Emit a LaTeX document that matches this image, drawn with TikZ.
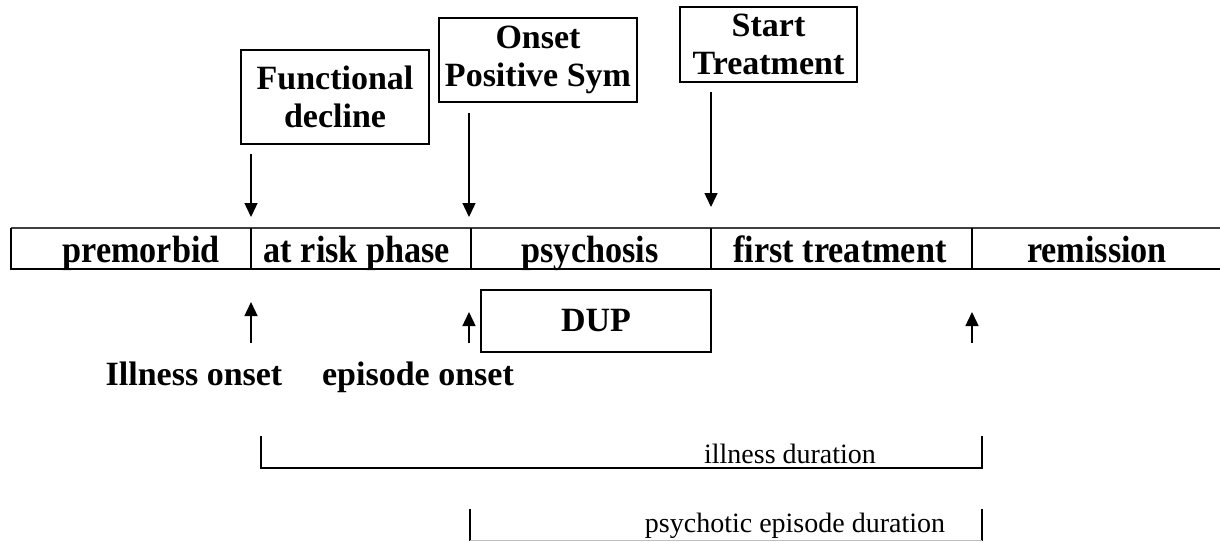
\documentclass[tikz,border=0pt]{standalone}
\usepackage{fontspec}
\setmainfont{Liberation Serif}
\newfontfamily\cellfont[FakeStretch=0.9]{Liberation Serif}
\usetikzlibrary{arrows.meta}
\begin{document}
\begin{tikzpicture}[x=1pt,y=-1pt,
  bx/.style={draw=black,line width=1.2pt,inner sep=0pt,align=center,font=\bfseries\fontsize{34}{38}\selectfont},
  lbl/.style={inner sep=0pt,anchor=base,font=\bfseries\fontsize{34}{38}\selectfont},
  cell/.style={inner sep=0pt,anchor=base,font=\cellfont\bfseries\fontsize{38}{42}\selectfont},
  dur/.style={inner sep=0pt,anchor=base,font=\fontsize{28}{32}\selectfont},
  arr/.style={line width=1.4pt,-{Triangle[width=13pt,length=14pt]}},
  brk/.style={line width=1.3pt}]
\useasboundingbox (0,0) rectangle (1220,541);
% top boxes
\node[bx,minimum width=188pt,minimum height=94pt] (fd) at (335,97) {Functional\\decline};
\node[bx,minimum width=198pt,minimum height=84pt] (os) at (538,60) {Onset\\Positive Sym};
\node[bx,minimum width=177pt,minimum height=75pt] (st) at (768.5,44.5) {Start\\Treatment};
% timeline bar
\draw[line width=2pt,black!75] (1220,228) -- (11,228);
\draw[line width=1.3pt] (11,228) -- (11,269) -- (1220,269);
\coordinate (d1t) at (251,228); \coordinate (d1b) at (251,269);
\coordinate (d2t) at (471,228); \coordinate (d2b) at (471,269);
\coordinate (d3t) at (711,228); \coordinate (d3b) at (711,269);
\coordinate (d4t) at (972,228); \coordinate (d4b) at (972,269);
\draw[line width=1.3pt] (d1t) -- (d1b) (d2t) -- (d2b) (d3t) -- (d3b) (d4t) -- (d4b);
\node[cell] (c1) at (141,262) {premorbid};
\node[cell] (c2) at (357,262) {at risk phase};
\node[cell] (c3) at (590,262) {psychosis};
\node[cell] (c4) at (840,262) {first treatment};
\node[cell] (c5) at (1097,262) {remission};
% down arrows
\coordinate (a1s) at (251,154); \coordinate (a1e) at (251,217);
\coordinate (a2s) at (469,113); \coordinate (a2e) at (469,217);
\coordinate (a3s) at (711,92);  \coordinate (a3e) at (711,207);
\draw[arr] (a1s) -- (a1e);
\draw[arr] (a2s) -- (a2e);
\draw[arr] (a3s) -- (a3e);
% DUP box
\node[bx,minimum width=230pt,minimum height=62pt] (dup) at (596,321) {DUP};
% up arrows
\coordinate (u1s) at (251,343); \coordinate (u1e) at (251,302);
\coordinate (u2s) at (469,343); \coordinate (u2e) at (469,312);
\coordinate (u3s) at (972,343); \coordinate (u3e) at (972,312);
\draw[arr] (u1s) -- (u1e);
\draw[arr] (u2s) -- (u2e);
\draw[arr] (u3s) -- (u3e);
\node[lbl] (io) at (194,385) {Illness onset};
\node[lbl] (eo) at (418,385) {episode onset};
% duration brackets
\coordinate (b1a) at (261,436); \coordinate (b1b) at (261,468);
\coordinate (b1c) at (982,468); \coordinate (b1d) at (982,436);
\draw[brk] (b1a) -- (b1b) -- (b1c) -- (b1d);
\node[dur] (idur) at (790,463) {illness duration};
\coordinate (b2a) at (470,509); \coordinate (b2b) at (470,541);
\coordinate (b2c) at (982,541); \coordinate (b2d) at (982,509);
\draw[brk] (b2a) -- (b2b);
\draw[brk] (b2c) -- (b2d);
\draw[line width=1pt,black!25] (470,540.5) -- (982,540.5);
\node[dur] (pdur) at (795,532) {psychotic episode duration};
\end{tikzpicture}
\end{document}
